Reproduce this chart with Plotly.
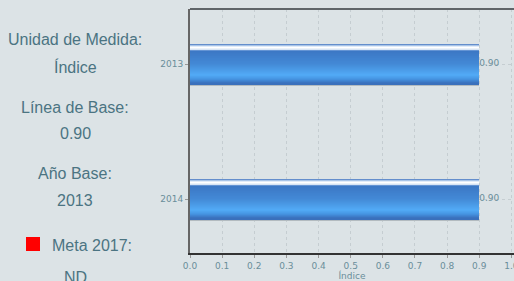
import plotly.graph_objects as go

# ---- data ----
categories = ["2013", "2014"]
values = [0.90, 0.90]
value_labels = ["0.90", "0.90"]
x_ticks = [0.0, 0.1, 0.2, 0.3, 0.4, 0.5, 0.6, 0.7, 0.8, 0.9, 1.0]
x_tick_labels = ["0.0", "0.1", "0.2", "0.3", "0.4", "0.5", "0.6", "0.7", "0.8", "0.9", "1.0"]
x_title = "Índice"
side_lines = [
    ("Unidad de Medida:", 40),
    ("Índice", 67),
    ("Línea de Base:", 107),
    ("0.90", 133),
    ("Año Base:", 173),
    ("2013", 200),
    ("ND", 277),
]
meta_label = "Meta 2017:"

# ---- layout geometry (pixels) ----
W, H = 514, 281
L, T, B = 190, 9, 28
plot_w = W - L
plot_h = H - T - B
PX_PER_CAT = 135.0
BAR_PX = 40

BG = "#dce3e6"
TXT = "#4b7482"
TICK = "#6a8e9a"
SMALL_FONT = "DejaVu Sans, Verdana"

def px2paper_x(p):
    return (p - L) / plot_w

def px2paper_y(q):
    return (H - B - q) / plot_h

# gradient stops: (row, color)
stops = [
    (0, (59, 108, 184)),
    (1, (140, 176, 224)),
    (2.5, (225, 235, 248)),
    (3.5, (255, 255, 255)),
    (5.5, (215, 228, 244)),
    (6.5, (100, 148, 212)),
    (7.5, (60, 120, 197)),
    (20, (67, 137, 214)),
    (31, (82, 171, 246)),
    (35, (69, 148, 226)),
    (39, (58, 112, 188)),
]

def color_at(r):
    for (r0, c0), (r1, c1) in zip(stops[:-1], stops[1:]):
        if r0 <= r <= r1:
            t = 0 if r1 == r0 else (r - r0) / (r1 - r0)
            c = [round(a + (b - a) * t) for a, b in zip(c0, c1)]
            return "rgb(%d,%d,%d)" % tuple(c)
    return "rgb(%d,%d,%d)" % stops[-1][1]

fig = go.Figure()

half = BAR_PX / 2 / PX_PER_CAT
# shadow line under bar
fig.add_trace(go.Bar(
    x=values, y=categories, orientation="h",
    offset=-half + BAR_PX / PX_PER_CAT, width=1.2 / PX_PER_CAT,
    marker=dict(color="#b3bbc0", line=dict(width=0)),
    hoverinfo="skip", showlegend=False,
))
for r in range(BAR_PX):
    fig.add_trace(go.Bar(
        x=values, y=categories, orientation="h",
        offset=-half + r / PX_PER_CAT, width=1.08 / PX_PER_CAT,
        marker=dict(color=color_at(r + 0.5), line=dict(width=0)),
        hoverinfo="skip", showlegend=False,
    ))

fig.add_trace(go.Scatter(
    x=values, y=categories, mode="text", text=value_labels,
    textposition="middle right",
    textfont=dict(family=SMALL_FONT, size=9, color=TICK),
    hoverinfo="skip", showlegend=False, cliponaxis=False,
))

annotations = []
for txt, yc in side_lines:
    annotations.append(dict(
        x=px2paper_x(75), y=px2paper_y(yc), xref="paper", yref="paper",
        text=txt, showarrow=False, xanchor="center", yanchor="middle",
        font=dict(family="Liberation Sans, Arial", size=16, color=TXT),
    ))
annotations.append(dict(
    x=px2paper_x(92), y=px2paper_y(245), xref="paper", yref="paper",
    text=meta_label, showarrow=False, xanchor="center", yanchor="middle",
    font=dict(family="Liberation Sans, Arial", size=16, color=TXT),
))

shapes = [
    dict(type="rect", xref="paper", yref="paper",
         x0=px2paper_x(26), x1=px2paper_x(40),
         y0=px2paper_y(251), y1=px2paper_y(237),
         fillcolor="#ff0000", line=dict(width=0)),
    dict(type="line", xref="paper", yref="paper",
         x0=0, x1=1, y0=1, y1=1,
         line=dict(color="#5f6569", width=2)),
]

x_max = (W - L) / (321.4)
y_top = -(64 - T) / PX_PER_CAT
y_bot = 1 + (H - B - 199) / PX_PER_CAT

fig.update_layout(
    width=W, height=H,
    margin=dict(l=L, r=0, t=T, b=B, pad=0, autoexpand=False),
    paper_bgcolor=BG, plot_bgcolor=BG,
    barmode="overlay", bargap=0,
    annotations=annotations, shapes=shapes,
    showlegend=False,
    font=dict(family=SMALL_FONT, size=9, color=TICK),
    xaxis=dict(
        range=[0, x_max], tickvals=x_ticks, ticktext=x_tick_labels,
        showgrid=True, gridcolor="#c5cdd1", griddash="dot", gridwidth=1,
        showline=True, linecolor="#333333", linewidth=2,
        ticks="outside", ticklen=3, tickcolor="#999999",
        tickfont=dict(family=SMALL_FONT, size=9, color=TICK),
        ticklabeloverflow="allow", automargin=False,
        title=dict(text=x_title, font=dict(family=SMALL_FONT, size=9, color=TICK), standoff=0),
        zeroline=False, fixedrange=True,
    ),
    yaxis=dict(
        type="category", categoryorder="array", categoryarray=categories,
        range=[y_bot, y_top], automargin=False,
        showgrid=True, gridcolor="#c5cdd1", griddash="dot", gridwidth=1,
        showline=True, linecolor="#666666", linewidth=2,
        ticks="outside", ticklen=3, tickcolor="#999999",
        tickfont=dict(family=SMALL_FONT, size=9, color=TICK),
        zeroline=False, fixedrange=True,
    ),
)

fig.write_html(
    "out.html",
    config={"displayModeBar": False},
    post_script="document.body.style.margin='0';document.body.style.overflow='hidden';",
)
